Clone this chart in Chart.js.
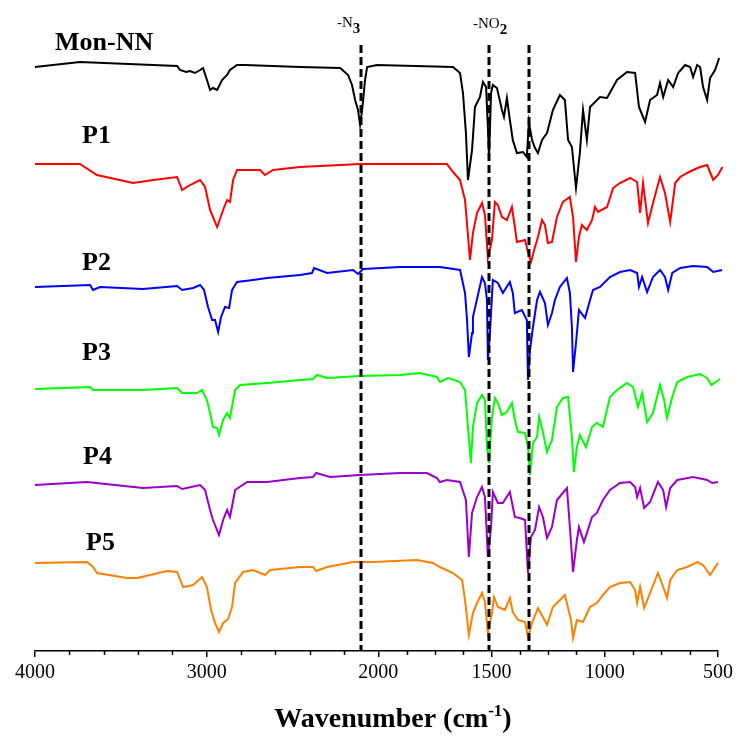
<!DOCTYPE html>
<html>
<head>
<meta charset="utf-8">
<script src="https://cdn.jsdelivr.net/npm/chart.js@4/dist/chart.umd.min.js"></script>
<style>
  html, body { margin: 0; padding: 0; background: #ffffff; }
  #wrap { width: 737px; height: 738px; position: relative; }
</style>
</head>
<body>
<div id="wrap"><canvas id="c" width="737" height="738"></canvas></div>
<script>
// ---------------- DATA ----------------
const seriesNames = ["Mon-NN", "P1", "P2", "P3", "P4", "P5"];
const majorTicks = [4000, 3000, 2000, 1500, 1000, 500];
const minorTicks = [3800, 3600, 3400, 3200, 2800, 2600, 2400, 2200, 1875, 1750, 1625, 1375, 1250, 1125, 875, 750, 625];
const markerLines = [2103, 1510, 1335];
// vertical offset of each trace (relative transmittance units)
const offsets = [584, 486, 364, 263, 167, 88];

const monWn = [4000,3738,3172,3155,3120,3097,3068,3038,3021,2998,2980,2963,2939,2910,2881,2864,2823,2776,2456,2222,2176,2153,2135,2118,2106,2094,2077,2065,2007,1670,1639,1626,1613,1604,1586,1573,1551,1538,1524,1516,1511,1502,1494,1476,1454,1445,1432,1419,1406,1388,1361,1344,1335,1321,1308,1295,1277,1255,1229,1198,1176,1162,1145,1127,1110,1096,1079,1065,1043,1021,990,946,902,866,849,822,800,769,756,742,720,698,676,645,623,610,592,579,566,548,535,513,495];
const monT  = [0,5,1,-3,-5,-4,-6,-3,-1,-13,-23,-21,-23,-13,-8,-3,2,2,0,-1,-8,-18,-33,-43,-58,-43,-13,0,2,0,-6,-26,-66,-113,-83,-40,-30,-15,-20,-60,-90,-26,-18,-21,-43,-50,-31,-53,-73,-86,-85,-90,-55,-73,-81,-86,-73,-66,-43,-28,-33,-73,-80,-121,-86,-43,-73,-40,-35,-30,-31,-13,-5,-6,-40,-55,-33,-28,-16,-30,-13,-20,-6,2,0,-10,2,0,-20,-33,-11,-3,9];

const p1Wn = [4000,3738,3639,3429,3312,3172,3143,3097,3038,3009,2980,2939,2904,2881,2864,2846,2823,2689,2660,2613,2456,2106,1697,1670,1639,1617,1595,1582,1564,1542,1529,1516,1498,1485,1472,1454,1432,1410,1397,1388,1352,1339,1326,1308,1295,1277,1264,1251,1233,1211,1185,1154,1140,1127,1114,1101,1079,1056,1043,1030,990,963,933,888,857,844,831,809,787,756,734,711,689,667,636,610,579,548,521,500,480];
const p1T  = [1,1,-10,-18,-15,-12,-25,-20,-15,-22,-45,-62,-45,-35,-37,-15,-5,-5,-10,-5,-2,1,1,-7,-15,-35,-95,-68,-48,-38,-50,-93,-75,-37,-40,-52,-55,-42,-62,-77,-75,-87,-97,-82,-72,-55,-60,-78,-77,-52,-37,-32,-52,-97,-72,-60,-65,-55,-42,-47,-42,-23,-18,-13,-17,-48,-18,-58,-38,-12,-28,-57,-18,-12,-8,-5,-2,0,-15,-10,-2];

const p2Wn = [4000,3679,3662,3621,3371,3172,3143,3079,3038,3015,2992,2968,2951,2933,2916,2893,2869,2852,2823,2730,2648,2456,2386,2374,2298,2147,2118,2088,1904,1728,1639,1617,1608,1600,1586,1582,1542,1529,1520,1516,1507,1494,1472,1450,1419,1406,1397,1366,1344,1339,1330,1317,1299,1286,1264,1251,1233,1220,1198,1167,1154,1145,1140,1127,1114,1087,1065,1052,1021,977,933,888,857,849,835,813,787,756,734,720,702,667,610,548,521,482];
const p2T  = [0,2,-3,0,-2,1,-3,-1,2,-3,-20,-33,-33,-45,-30,-20,-21,-3,5,7,9,12,14,19,14,17,13,18,20,20,17,-6,-33,-70,-46,-30,10,4,-13,-73,-46,7,4,-6,5,-6,-26,-23,-33,-93,-63,-40,-13,-5,-16,-38,-26,-13,0,9,-6,-40,-85,-56,-23,-31,-13,-3,0,10,15,17,14,0,10,-5,10,17,10,-3,14,19,21,20,15,17];

const p3Wn = [4000,3679,3662,3371,3172,3143,3056,3027,2998,2980,2963,2939,2928,2904,2881,2864,2834,2805,2648,2456,2380,2357,2298,2106,1904,1816,1741,1728,1692,1639,1617,1604,1591,1582,1564,1542,1529,1520,1511,1498,1485,1472,1454,1432,1410,1397,1383,1352,1339,1330,1317,1299,1290,1273,1255,1233,1211,1185,1162,1145,1136,1123,1110,1083,1056,1035,1008,977,946,902,875,853,835,813,787,756,738,725,702,680,636,579,548,530,491];
const p3T  = [-1,1,-2,-2,0,-5,-5,-2,-12,-25,-39,-40,-47,-32,-25,-30,-2,3,5,8,9,13,10,12,13,15,11,6,10,6,-2,-39,-75,-39,-15,-7,-12,-59,-75,-29,-10,-15,-27,-24,-15,-32,-44,-45,-59,-87,-55,-49,-29,-44,-64,-52,-19,-10,-9,-49,-84,-59,-47,-59,-39,-35,-39,-9,-2,5,1,-19,-5,-34,-25,3,-12,-30,-9,6,11,14,10,3,9];

const p4Wn = [4000,3697,3371,3172,3143,3038,3009,2980,2963,2928,2904,2881,2864,2834,2764,2648,2456,2380,2362,2281,2106,1904,1785,1741,1728,1697,1639,1613,1600,1586,1564,1542,1529,1516,1502,1494,1472,1450,1419,1397,1375,1352,1339,1326,1308,1290,1273,1255,1233,1211,1167,1154,1140,1123,1114,1092,1056,1035,1008,977,933,888,866,857,844,826,800,765,742,729,711,680,610,548,526,500];
const p4T  = [-1,2,-4,-2,-5,-1,-6,-26,-36,-51,-36,-26,-33,-6,2,2,6,7,11,7,9,11,11,6,2,4,2,-16,-73,-29,-13,-3,-13,-73,-43,-8,-19,-19,-8,-33,-34,-36,-89,-53,-46,-23,-33,-54,-43,-16,-4,-43,-88,-56,-43,-58,-33,-29,-16,-6,1,2,-3,-13,-4,-24,-18,2,-6,-23,-4,4,7,4,1,2];

const p5Wn = [4000,3697,3662,3639,3464,3406,3231,3172,3137,3079,3027,2998,2974,2951,2928,2904,2875,2852,2834,2788,2730,2660,2630,2456,2380,2362,2298,2147,2030,1829,1759,1728,1670,1630,1617,1600,1582,1564,1542,1529,1516,1498,1489,1472,1441,1419,1406,1383,1352,1339,1321,1295,1273,1255,1229,1176,1149,1140,1123,1096,1065,1035,1008,977,933,888,866,857,844,826,800,765,742,725,711,680,636,592,566,535,500];
const p5T  = [0,1,-4,-10,-15,-15,-8,-9,-24,-22,-14,-24,-47,-60,-69,-60,-56,-44,-20,-9,-7,-12,-7,-4,-4,-8,-4,1,1,3,0,-4,-10,-17,-37,-72,-50,-40,-30,-39,-70,-50,-34,-44,-47,-35,-49,-57,-59,-74,-60,-45,-54,-62,-44,-32,-57,-75,-57,-59,-44,-40,-32,-24,-20,-19,-27,-40,-24,-45,-30,-10,-24,-35,-17,-7,-4,1,-2,-12,0];

const seriesWn = [monWn, p1Wn, p2Wn, p3Wn, p4Wn, p5Wn];
const seriesT  = [monT, p1T, p2T, p3T, p4T, p5T];
const seriesColors = ["#000000", "#ff0000", "#0000ff", "#00ff00", "#9900cc", "#ff8000"];

// ---------------- SCALE WITH BREAK AT 2000 cm-1 ----------------
const AXIS_HIGH = 4000, AXIS_BREAK = 2000, AXIS_LOW = 500;
const BREAK_FRACTION = 0.5026; // share of axis width used by 4000-2000

class BrokenAxis extends Chart.LinearScale {
  getPixelForValue(v) {
    let d;
    if (v >= AXIS_BREAK) d = (AXIS_HIGH - v) / (AXIS_HIGH - AXIS_BREAK) * BREAK_FRACTION;
    else d = BREAK_FRACTION + (AXIS_BREAK - v) / (AXIS_BREAK - AXIS_LOW) * (1 - BREAK_FRACTION);
    return this.left + d * this.width;
  }
  getValueForPixel(p) {
    const d = (p - this.left) / this.width;
    if (d <= BREAK_FRACTION) return AXIS_HIGH - d / BREAK_FRACTION * (AXIS_HIGH - AXIS_BREAK);
    return AXIS_BREAK - (d - BREAK_FRACTION) / (1 - BREAK_FRACTION) * (AXIS_BREAK - AXIS_LOW);
  }
  buildTicks() {
    return majorTicks.map(v => ({ value: v }));
  }
}
BrokenAxis.id = 'brokenAxis';
BrokenAxis.defaults = Chart.LinearScale.defaults;
Chart.register(BrokenAxis);

const SERIF = '"Liberation Serif", "Times New Roman", serif';

const datasets = seriesNames.map((name, i) => ({
  label: name,
  data: seriesWn[i].map((w, k) => ({ x: w, y: seriesT[i][k] + offsets[i] })),
  borderColor: seriesColors[i],
  borderWidth: 2,
  pointRadius: 0,
  tension: 0,
  fill: false,
  clip: false
}));

// label positions (text anchors)
const nameAnchors = [[55, 50], [82, 143], [82, 270], [82, 360], [83, 464], [86, 550]];

const overlayPlugin = {
  id: 'overlay',
  afterDatasetsDraw(chart) {
    const ctx = chart.ctx;
    const xs = chart.scales.x;
    const bottom = chart.chartArea.bottom;
    ctx.save();
    // dashed marker lines
    ctx.strokeStyle = '#000';
    ctx.lineWidth = 3;
    ctx.setLineDash([8, 4]);
    markerLines.forEach(w => {
      const px = Math.round(xs.getPixelForValue(w));
      ctx.beginPath();
      ctx.moveTo(px, 45);
      ctx.lineTo(px, bottom);
      ctx.stroke();
    });
    ctx.setLineDash([]);
    // minor ticks
    ctx.lineWidth = 1.5;
    minorTicks.forEach(w => {
      const px = Math.round(xs.getPixelForValue(w)) + 0.5;
      ctx.beginPath();
      ctx.moveTo(px, bottom);
      ctx.lineTo(px, bottom + 4);
      ctx.stroke();
    });
    // series names
    ctx.fillStyle = '#000';
    ctx.textBaseline = 'alphabetic';
    ctx.textAlign = 'left';
    ctx.font = 'bold 26px ' + SERIF;
    seriesNames.forEach((n, i) => ctx.fillText(n, nameAnchors[i][0], nameAnchors[i][1]));
    // group annotations
    function drawParts(x, y, parts) {
      let cx = x;
      parts.forEach(p => {
        ctx.font = p.font;
        ctx.fillText(p.t, cx, y + p.dy);
        cx += ctx.measureText(p.t).width;
      });
      return cx;
    }
    drawParts(337, 27, [{ t: '-N', font: '15px ' + SERIF, dy: 0 }, { t: '3', font: 'bold 15px ' + SERIF, dy: 6 }]);
    drawParts(473, 28, [{ t: '-NO', font: '15px ' + SERIF, dy: 0 }, { t: '2', font: 'bold 15px ' + SERIF, dy: 6 }]);
    // axis title
    const parts = [
      { t: 'Wavenumber (cm', font: 'bold 28px ' + SERIF, dy: 0 },
      { t: '-1', font: 'bold 17px ' + SERIF, dy: -11 },
      { t: ')', font: 'bold 28px ' + SERIF, dy: 0 }
    ];
    let total = 0;
    parts.forEach(p => { ctx.font = p.font; total += ctx.measureText(p.t).width; });
    drawParts(393 - total / 2, 727, parts);
    ctx.restore();
  }
};

new Chart(document.getElementById('c'), {
  type: 'line',
  data: { datasets },
  options: {
    responsive: false,
    animation: false,
    events: [],
    layout: { padding: { left: 35, right: 19, top: 11, bottom: 0 } },
    plugins: { legend: { display: false }, tooltip: { enabled: false } },
    scales: {
      x: {
        type: 'brokenAxis',
        min: 500,
        max: 4000,
        afterFit(scale) { scale.height = 87; },
        border: { display: true, color: '#000', width: 1.5 },
        grid: { display: true, drawOnChartArea: false, drawTicks: true, tickLength: 6, color: '#000', lineWidth: 1.5 },
        ticks: {
          autoSkip: false,
          maxRotation: 0,
          padding: 4,
          color: '#000',
          font: { family: SERIF, size: 20 },
          callback: v => String(v)
        }
      },
      y: {
        display: false,
        min: 0,
        max: 640
      }
    }
  },
  plugins: [overlayPlugin]
});
</script>
</body>
</html>
